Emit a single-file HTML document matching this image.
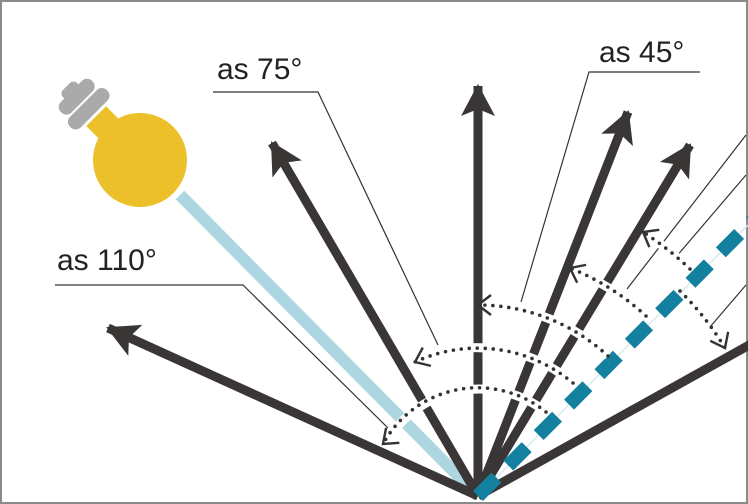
<!DOCTYPE html>
<html><head><style>
html,body{margin:0;padding:0;background:#fff}
svg{display:block}
text{font-family:"Liberation Sans",sans-serif;font-size:30px;fill:#222}
</style></head><body>
<svg width="748" height="504" viewBox="0 0 748 504" xmlns="http://www.w3.org/2000/svg">
<defs>
<marker id="ah" markerUnits="userSpaceOnUse" markerWidth="36" markerHeight="36" refX="30" refY="17" orient="auto">
<path d="M0,0 L32,17 L0,34 L7,17 z" fill="#3a3636"/>
</marker>
<marker id="ch" markerUnits="userSpaceOnUse" markerWidth="18" markerHeight="24" refX="15" refY="11" orient="auto">
<path d="M2,1 L15,11 L2,21" fill="none" stroke="#333" stroke-width="2.4"/>
</marker>
</defs>
<rect x="1" y="1" width="746" height="502" fill="#fff" stroke="#8a8a8a" stroke-width="2"/>

<g stroke="#333" stroke-width="1.2" fill="none">
<polyline points="213,92 318,92 438,345"/>
<polyline points="55,285 243,285 388,428"/>
<polyline points="700,72 589,72 521,302"/>
<line x1="746" y1="135" x2="627" y2="289"/>
<line x1="746" y1="175" x2="676" y2="257"/>
<line x1="746" y1="285" x2="710" y2="327"/>
</g>

<line x1="180" y1="195" x2="478" y2="496" stroke="#acd6e0" stroke-width="12"/>

<g transform="translate(140,160) rotate(-45)">
<rect x="-14" y="-62" width="28" height="22" fill="#ecc02a"/>
<rect x="-26" y="-80" width="52" height="15" rx="7" fill="#aaa"/>
<rect x="-22" y="-97" width="44" height="15" rx="7" fill="#aaa"/>
<rect x="-10" y="-104" width="20" height="12" rx="5" fill="#aaa"/>
<circle cx="0" cy="0" r="47" fill="#ecc02a"/>
</g>

<g stroke="#3a3636" stroke-width="9" fill="none">
<line x1="478" y1="496" x2="108" y2="328" marker-end="url(#ah)"/>
<line x1="478" y1="496" x2="272" y2="143" marker-end="url(#ah)"/>
<line x1="478" y1="496" x2="478" y2="86" marker-end="url(#ah)"/>
<line x1="478" y1="496" x2="628" y2="112" marker-end="url(#ah)"/>
<line x1="478" y1="496" x2="690" y2="145" marker-end="url(#ah)"/>
<line x1="478" y1="496" x2="760" y2="339"/>
</g>

<line x1="478" y1="496" x2="748" y2="225" stroke="#d6ecef" stroke-width="1.5"/>
<line x1="478" y1="496" x2="760" y2="213" stroke="#13809f" stroke-width="14" stroke-dasharray="26 17"/>

<g stroke="#fff" stroke-width="9" fill="none">
<path d="M546,412 A108,108 0 0 0 387,441"/>
<path d="M573,383 A148,148 0 0 0 418,360"/>
<path d="M608,356 A191,191 0 0 0 482,305"/>
<path d="M646,316 A246,246 0 0 0 573,270"/>
<path d="M690,269 A311,311 0 0 0 646,234"/>
</g>
<g stroke="#333" stroke-width="3.6" fill="none" stroke-dasharray="0 8" stroke-linecap="round">
<path d="M546,412 A108,108 0 0 0 383,444"/>
<path d="M573,383 A148,148 0 0 0 415,362"/>
<path d="M608,356 A191,191 0 0 0 478,305"/>
<path d="M646,316 A246,246 0 0 0 570,268"/>
<path d="M690,269 A311,311 0 0 0 643,232"/>
<path d="M680,291 A288,288 0 0 1 725,348"/>
</g>
<g stroke="none" fill="none">
<path d="M392,436 L383,444" marker-end="url(#ch)"/>
<path d="M424,358 L415,362" marker-end="url(#ch)"/>
<path d="M488,305 L478,305" marker-end="url(#ch)"/>
<path d="M578,272 L570,268" marker-end="url(#ch)"/>
<path d="M650,236 L643,232" marker-end="url(#ch)"/>
<path d="M721,340 L725,348" marker-end="url(#ch)"/>
</g>

<text x="217" y="79">as 75°</text>
<text x="57" y="270">as 110°</text>
<text x="599" y="62">as 45°</text>
</svg>
</body></html>
